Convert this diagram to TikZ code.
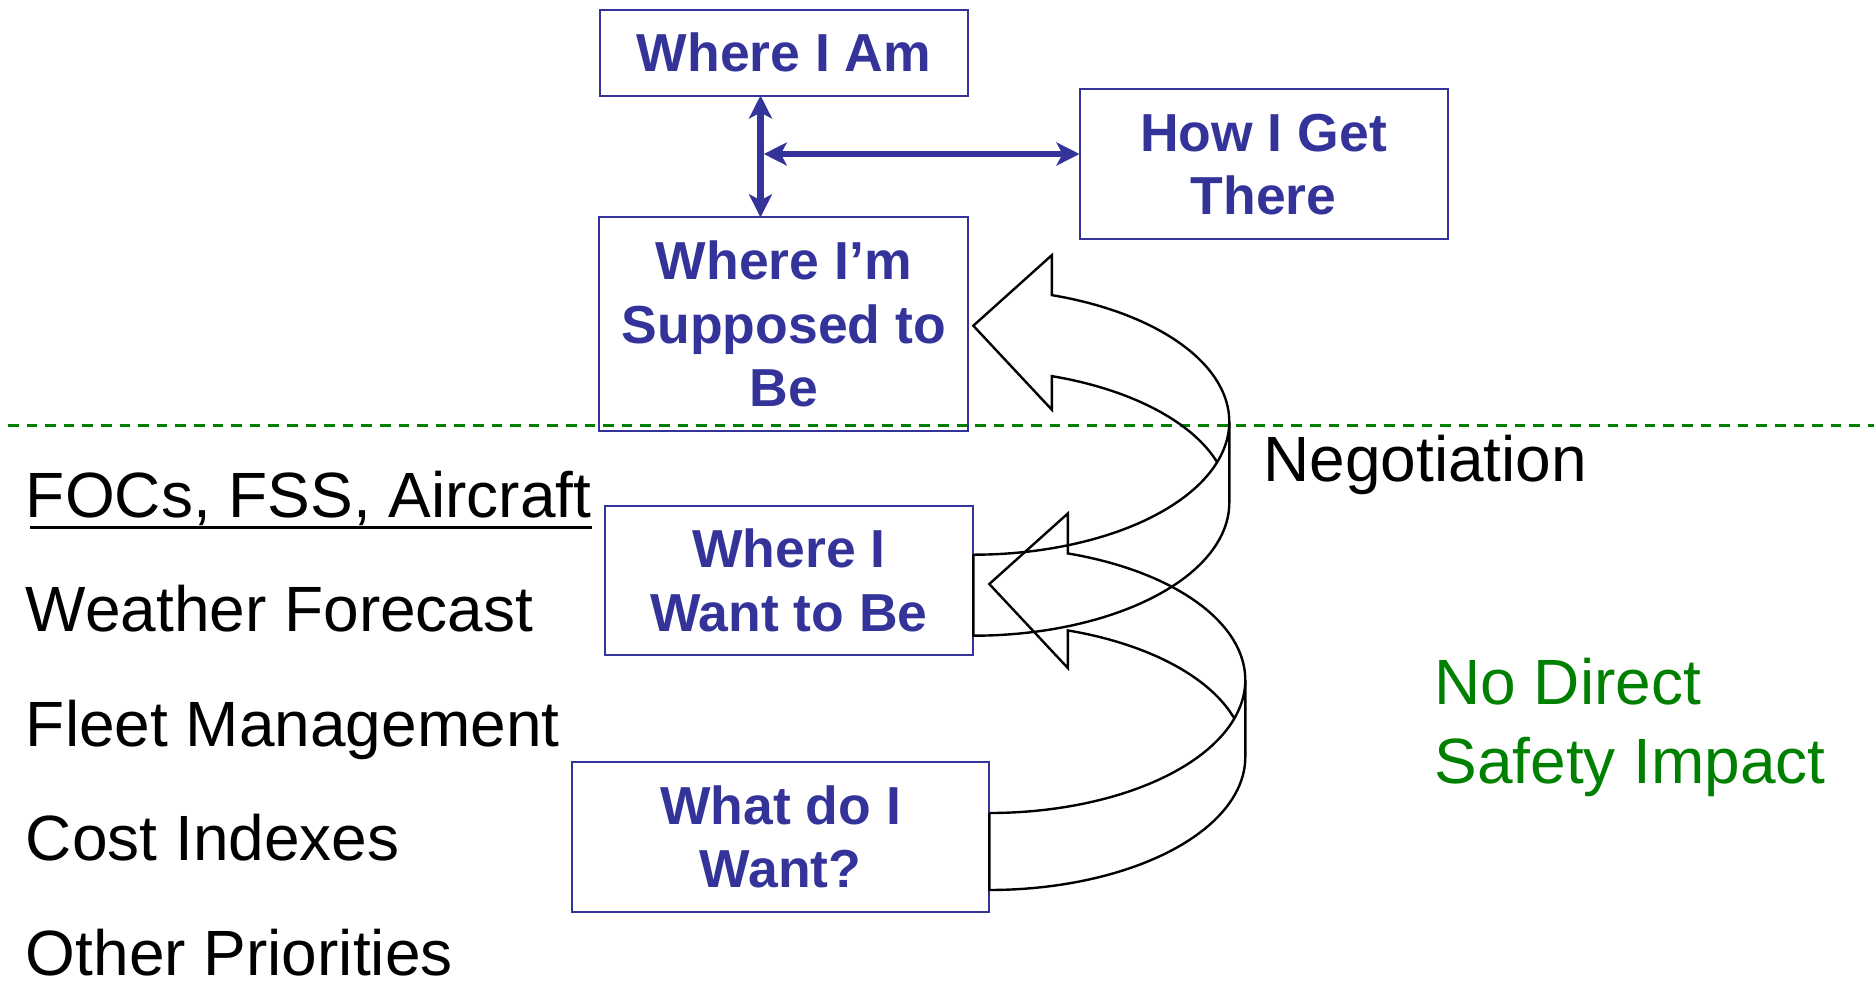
\documentclass[tikz,border=0pt]{standalone}
\usepackage{fontspec}
\setmainfont{Liberation Sans}
\usetikzlibrary{arrows.meta}
\definecolor{navy}{RGB}{51,51,153}
\definecolor{leaf}{RGB}{0,128,0}
\begin{document}
\begin{tikzpicture}[x=0.5pt,y=-0.5pt,
  box/.style={draw=navy, line width=1pt, outer sep=0pt, inner sep=0pt,
    text=navy, align=center,
    font=\bfseries\fontsize{26.75pt}{31.7pt}\selectfont},
  plaintext/.style={inner sep=0pt, anchor=base west,
    font=\fontsize{32pt}{39.2pt}\selectfont},
  duplex/.style={draw=navy, line width=3.3pt,
    {Stealth[length=11.5pt,width=11.5pt,inset=3pt]}-{Stealth[length=11.5pt,width=11.5pt,inset=3pt]}},
  ribbonline/.style={line width=1.2pt, line join=miter},
  % curved block arrow seen as a twisted band; origin = tail x, top of the right edge
  pics/ribbon/.style={code={
    \pgfmathsetmacro\rdx{256}
    \pgfmathsetmacro\rdy{133}
    \pgfmathsetmacro\bandw{#1}
    \pgfmathsetmacro\hx{78.5}
    \pgfmathsetmacro\ta{acos(\hx/\rdx)}
    \pgfmathsetmacro\tb{asin(\bandw/(2*\rdy))}
    % front band: tail, lower edge, right edge
    \draw[ribbonline] (0,\rdy) -- (0,\rdy+\bandw)
      -- plot[domain=90:0, samples=45] ({\rdx*cos(\x)},{\bandw+\rdy*sin(\x)})
      -- (\rdx,0);
    % upper edge, back band and head
    \draw[ribbonline] (0,\rdy)
      -- plot[domain=90:-\ta, samples=90] ({\rdx*cos(\x)},{\rdy*sin(\x)})
      -- (\hx,-166.5) -- (0,-96) -- (\hx,-12)
      -- plot[domain=-\ta:-\tb, samples=40] ({\rdx*cos(\x)},{\bandw+\rdy*sin(\x)});
  }}
]
\useasboundingbox (0,0) rectangle (1874,982);

% boxes
\node[box, minimum width=184pt, minimum height=43pt] (am) at (784,52.5) {Where I Am};
\node[box, minimum width=184pt, minimum height=75pt] (how) at (1263.5,164.3) {How I Get\\There};
\node[box, minimum width=184.5pt, minimum height=106.7pt] (sup) at (783.8,324) {Where I’m\\Supposed to\\Be};
\node[box, minimum width=184.25pt, minimum height=74.65pt] (want) at (789,580.4) {Where I\\Want to Be};
\node[box, minimum width=208.35pt, minimum height=74.7pt] (what) at (780.7,837) {What do I\\Want?};

% two-way links at the top
\coordinate (jn) at (760.5,154);
\draw[duplex] (am.south -| jn) -- (sup.north -| jn);
\draw[duplex] ([xshift=1.65pt]jn) -- (how.west |- jn);

% divider
\coordinate (dl) at (8,425.7);
\coordinate (dr) at (1874,425.7);
\draw[leaf, line width=1.4pt, dash pattern=on 5.3pt off 4pt] (dl) -- (dr);

% curved block arrows
\pic at (973.3,421.7) {ribbon=81};
\pic at (989.3,680) {ribbon=77};

% left list
\node[plaintext] (foc) at (25.5,517.3) {FOCs, FSS, Aircraft};
\draw[line width=1.3pt] ([xshift=2pt,yshift=-5pt]foc.base west) -- ([yshift=-5pt]foc.base east);
\node[plaintext] (wf) at (25.5,631.7) {Weather Forecast};
\node[plaintext] (fm) at (25.5,746) {Fleet Management};
\node[plaintext] (ci) at (25.5,860.5) {Cost Indexes};
\node[plaintext] (op) at (25.5,975) {Other Priorities};

% right side notes (base anchor sits on the last line)
\node[plaintext] (neg) at (1263,481.7) {Negotiation};
\node[plaintext, text=leaf, align=left] (nd) at (1434,783.3) {No Direct\\Safety Impact};
\end{tikzpicture}
\end{document}
